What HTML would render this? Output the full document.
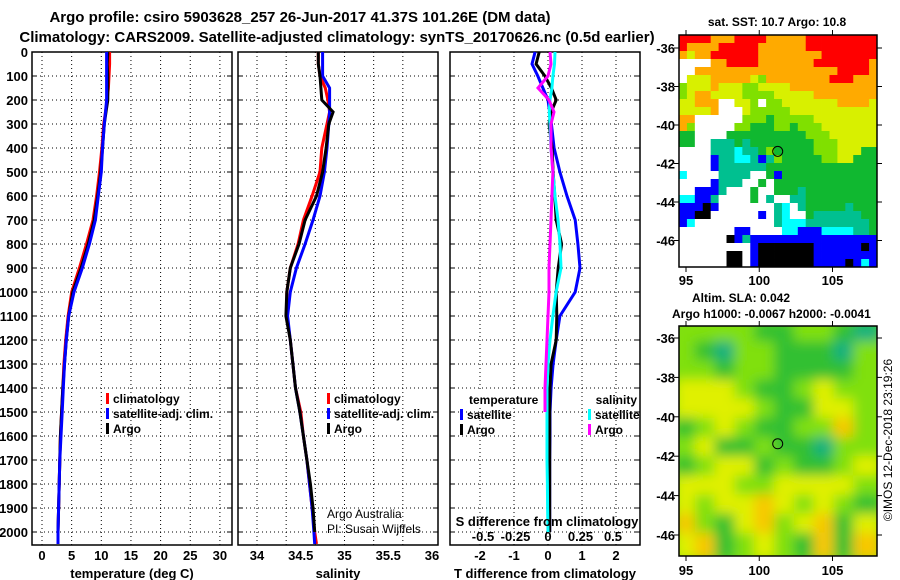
<!DOCTYPE html>
<html><head><meta charset="utf-8"><style>
html,body{margin:0;padding:0;background:#fff;width:900px;height:580px;overflow:hidden}
svg text{font-family:"Liberation Sans",sans-serif}
.b{font-weight:bold}
</style></head><body>
<svg id="fig" width="900" height="580" viewBox="0 0 900 580" xmlns="http://www.w3.org/2000/svg">
<text class="b" x="300" y="22" font-size="15" text-anchor="middle">Argo profile: csiro 5903628_257 26-Jun-2017 41.37S 101.26E (DM data)</text>
<text class="b" x="337" y="42" font-size="15" text-anchor="middle">Climatology: CARS2009. Satellite-adjusted climatology: synTS_20170626.nc (0.5d earlier)</text>
<g id="g1"></g>
<g id="g2"></g>
<g id="g3"></g>
<g id="m1"></g>
<g id="m2"></g>
</svg>
<script>
// ---- profile data ----
const depths = [0,50,100,150,200,250,300,400,500,600,700,800,900,1000,1100,1200,1300,1400,1500,1600,1700,1800,1900,2000,2050];
const tempClim = [11.4,11.4,11.3,11.2,11.0,10.7,10.4,10.1,9.7,9.2,8.6,7.5,6.3,5.0,4.4,4.0,3.7,3.5,3.3,3.1,3.0,2.9,2.8,2.7,2.7];
const tempSat  = [10.9,10.9,10.9,10.9,10.9,10.7,10.5,10.2,10.0,9.5,9.0,8.0,6.8,5.4,4.5,4.1,3.8,3.6,3.4,3.2,3.0,2.9,2.8,2.7,2.7];
const tempArgo = [11.1,11.0,11.1,11.1,11.1,10.8,10.5,10.2,9.9,9.4,8.8,7.8,6.6,5.2,4.5,4.1,3.8,3.5,3.3,3.1,3.0,2.9,2.8,2.7,2.7];
const salClim = [34.70,34.70,34.72,34.78,34.81,34.83,34.80,34.74,34.72,34.63,34.53,34.47,34.38,34.34,34.34,34.38,34.41,34.44,34.50,34.53,34.57,34.60,34.63,34.66,34.68];
const salSat  = [34.75,34.75,34.75,34.83,34.83,34.83,34.82,34.80,34.77,34.72,34.64,34.55,34.45,34.38,34.35,34.38,34.41,34.44,34.49,34.53,34.57,34.60,34.63,34.65,34.66];
const salArgo = [34.70,34.70,34.72,34.73,34.74,34.87,34.82,34.79,34.75,34.68,34.55,34.48,34.38,34.34,34.33,34.38,34.41,34.44,34.49,34.53,34.57,34.61,34.64,34.66,null];
const dTsat  = [-0.38,-0.47,-0.30,-0.15,0.0,0.05,0.10,0.18,0.35,0.56,0.80,0.88,0.94,0.80,0.35,0.24,0.15,0.09,0.06,0.06,0.05,0.05,0.05,0.05,null];
const dTargo = [-0.26,-0.35,-0.09,0.10,0.24,0.09,0.03,0.12,0.15,0.20,0.24,0.40,0.30,0.24,0.26,0.24,0.09,0.06,0.05,0.05,0.05,0.05,0.05,0.05,null];
const dSsat  = [0.054,0.05,0.038,0.03,0.015,0.01,0.015,0.023,0.038,0.054,0.077,0.092,0.10,0.062,0.038,0.015,0.0,-0.008,-0.008,-0.008,-0.008,-0.005,-0.003,0.0,null];
const dSargo = [0.015,0.023,0.0,-0.077,0.008,0.046,0.023,0.023,0.038,0.030,0.023,0.015,0.008,0.008,0.0,-0.008,-0.015,-0.023,-0.023,null,null,null,null,null,null];
const depthTicks = [0,100,200,300,400,500,600,700,800,900,1000,1100,1200,1300,1400,1500,1600,1700,1800,1900,2000];
const tempTicks = [0,5,10,15,20,25,30];
const salTickLabels = ["34","34.5","35","35.5","36"];
const salTicks = [34,34.5,35,35.5,36];
const dTTicks = [-2,-1,0,1,2];
const dSTicks = [-0.5,-0.25,0,0.25,0.5];
const dSTickLabels = ["-0.5","-0.25","0","0.25","0.5"];
// ---- map data (color codes) ----
const sstRows = [
"RRRROOORRRROOOOORRRRRRRRR","ROOOORRRRROOOOOORRRRRRRRR","OYOORRRRRROOOOOOOORRRRRRR","WWWWOORRRROOOOOOORRRRRRRO",
"WWOOOOOOOOOOOOOOOOOORRRRO","WYYYOOOOOYLOOOOOOOORRROOO","LYYYOYYYLLYYYYOOOOOOOOOOO","LYOOYYYYLLLLYYYYYOOOOOOOO",
"YYOOOWWYYLWLLYYYYYYYOOOOY","YYYYOWWWYLLLLLYYYYYYYYYYY","OOWWWWWWLLLGLLLLLYYYYYYYY","OLWWWWWLLGGGLLGLLLYYYYYYY",
"GGWWWWGGGGGGGGGGLLLYYYYYY","GGWWTTTGTGGGGGGGGLLLYYYYY","WWWWTTTCTTGLGGGGGLLLYYYGG","WWWWBTTCCTBTLGGGGGLLYYGGG",
"WWWWBTTTTTTGGGGGGGGGGGGGG","CWWWWTTTTWWGBGGGGGGGGGGGG","WWWWBTTTWWGWGGGGGGGGGGGGG","WWBBBTWWWGWWGGGTGGGGGGGGG",
"CCBBTWWWWGWTWWTTGGGGGGGGG","BBBKBWWWWWWWTCWTGGGGGTGGG","BBKKWWWWWWBWTCWWGTTTTTTGG","BCWWWWWWWWWWTCCCTTTTTTTTG",
"WWWWWWWBBWWWWCCBBBCCCCTTG","WWWWWWKBTBBBBBBBBBBBBBBBB","WWWWWWWWWBKKKKKKKBBBBBBKB","WWWWWWKKWBKKKKKKKBBBBBBBB","WWWWWWKKWBKKKKKKKBBBBKBCB"];
const slaRows = ["LLLLGGLLGT","LGTLLGGGTL","LLGLLGGGGL","YYYLGGLYLL","YYYYLGGYYL","GLYLGGLLOL","LYGGLGGTLL","GLYYGLGGLY","YYYLLYYYYL","YLYYOYLYLG","OLGYOLYOGY","YOGLYLGOGO"];
const lonTicks = [95,100,105];
const latTicks = [-36,-38,-40,-42,-44,-46];
const argoLon = 101.26, argoLat = -41.37;

const NS='http://www.w3.org/2000/svg';
function mk(p,t,a,txt){const e=document.createElementNS(NS,t);for(const k in a)e.setAttribute(k,a[k]);if(txt!==undefined)e.textContent=txt;p.appendChild(e);return e;}
const TOP=52,BOT=545;
const yD=d=>TOP+d*0.24;
const xT=t=>42+t*5.93;
const xS=s=>257+(s-34)*87.5;
const xDT=t=>548+t*34;
const xDS=s=>548+s*130;

function panel(g,x0,x1,gridXs){
  depthTicks.forEach(d=>{const l=mk(g,'line',{x1:x0,x2:x1,y1:yD(d),y2:yD(d),stroke:'#000','stroke-dasharray':'1,3','stroke-width':1});
  
  mk(g,'line',{x1:x0,x2:x0+5,y1:yD(d),y2:yD(d),stroke:'#000'});mk(g,'line',{x1:x1-5,x2:x1,y1:yD(d),y2:yD(d),stroke:'#000'});});
  gridXs.forEach(x=>{mk(g,'line',{x1:x,x2:x,y1:TOP,y2:BOT,stroke:'#000','stroke-dasharray':'1,3'});});
  const r=mk(g,'rect',{x:x0,y:TOP,width:x1-x0,height:BOT-TOP,fill:'none',stroke:'#000','stroke-width':1.5});
  
}
function line(g,xs,xf,color,name){
  let pts=[];depths.forEach((d,i)=>{if(xs[i]!==null)pts.push(xf(xs[i]).toFixed(1)+','+yD(d).toFixed(1));});
  const p=mk(g,'polyline',{points:pts.join(' '),fill:'none',stroke:color,'stroke-width':3,'stroke-linejoin':'miter'});
  
}
function txt(g,x,y,s,size,anchor,name,bold){const t=mk(g,'text',{x:x,y:y,'font-size':size,'text-anchor':anchor||'start','font-weight':bold===false?'normal':'bold'},s);
  return t;}
function leg(g,x,y,color,label,name){mk(g,'rect',{x:x,y:y-10,width:3,height:11,fill:color});txt(g,x+7,y,label,12,'start',name);}

// panel 1
const g1=document.getElementById('g1');
panel(g1,32,232,tempTicks.map(xT));
depthTicks.forEach(d=>txt(g1,28,yD(d)+5,String(d),13,'end','depth-tick-label'));
tempTicks.forEach(t=>txt(g1,xT(t),560,String(t),13,'middle','temperature-tick-label'));
txt(g1,132,578,'temperature (deg C)',13,'middle','x-axis-title-temperature');
line(g1,tempClim,xT,'#f00','temp-climatology-line');
line(g1,tempArgo,xT,'#000','temp-argo-line');
line(g1,tempSat,xT,'#00f','temp-satellite-line');
leg(g1,106,403,'#f00','climatology','legend-climatology');
leg(g1,106,418,'#00f','satellite-adj. clim.','legend-satellite');
leg(g1,106,433,'#000','Argo','legend-argo');

// panel 2
const g2=document.getElementById('g2');
const salGrid=[0,1,2,3,4,5].map(k=>xS(34+k/3));
panel(g2,238,438,salGrid);
salTicks.forEach((s,i)=>txt(g2,xS(s),560,salTickLabels[i],13,'middle','salinity-tick-label'));
txt(g2,338,578,'salinity',13,'middle','x-axis-title-salinity');
line(g2,salClim,xS,'#f00','sal-climatology-line');
line(g2,salSat,xS,'#00f','sal-satellite-line');
line(g2,salArgo,xS,'#000','sal-argo-line');
leg(g2,327,403,'#f00','climatology','legend-climatology');
leg(g2,327,418,'#00f','satellite-adj. clim.','legend-satellite');
leg(g2,327,433,'#000','Argo','legend-argo');
txt(g2,327,518,'Argo Australia',12,'start','credit-argo-australia',false);
txt(g2,327,533,'PI: Susan Wijffels',12,'start','credit-pi',false);

// panel 3
const g3=document.getElementById('g3');
panel(g3,450,640,dTTicks.map(xDT));
dTTicks.forEach(t=>txt(g3,xDT(t),560,String(t),13,'middle','tdiff-tick-label'));
txt(g3,545,578,'T difference from climatology',13,'middle','x-axis-title-tdiff');
line(g3,dTsat,xDT,'#00f','tdiff-satellite-line');
line(g3,dTargo,xDT,'#000','tdiff-argo-line');
line(g3,dSsat,xDS,'#0ff','sdiff-satellite-line');
line(g3,dSargo,xDS,'#f0f','sdiff-argo-line');
mk(g3,'rect',{x:468,y:392,width:72,height:14,fill:'#fff'});
txt(g3,469,404,'temperature',12,'start','legend-title-temperature');
txt(g3,637,404,'salinity',12,'end','legend-title-salinity');
leg(g3,460,419,'#00f','satellite','legend-t-satellite');
leg(g3,460,434,'#000','Argo','legend-t-argo');
leg(g3,588,419,'#0ff','satellite','legend-s-satellite');
leg(g3,588,434,'#f0f','Argo','legend-s-argo');
txt(g3,547,526,'S difference from climatology',13,'middle','s-diff-axis-title');
dSTicks.forEach((s,i)=>txt(g3,xDS(s),541,dSTickLabels[i],13,'middle','sdiff-tick-label'));

// maps
const colSST={R:'#ff0000',O:'#ffaa00',Y:'#d8f000',L:'#80e000',G:'#10b830',T:'#00c090',C:'#00ffff',B:'#0000ff',K:'#000000',W:'#ffffff'};
const colSLA={G:'#30c030',L:'#80e010',Y:'#e0f000',O:'#f8c800',T:'#10b080'};
function mapAxes(g,x0,y0,w,h,lonX,latY,labelY){
  const r=mk(g,'rect',{x:x0,y:y0,width:w,height:h,fill:'none',stroke:'#000','stroke-width':1.5});
  
  lonTicks.forEach(l=>{mk(g,'line',{x1:lonX(l),x2:lonX(l),y1:y0+h,y2:y0+h+5,stroke:'#000'});mk(g,'line',{x1:lonX(l),x2:lonX(l),y1:y0,y2:y0-5,stroke:'#000'});
    txt(g,lonX(l),labelY,String(l),13,'middle','longitude-tick-label');});
  latTicks.forEach(l=>{mk(g,'line',{x1:x0-5,x2:x0,y1:latY(l),y2:latY(l),stroke:'#000'});mk(g,'line',{x1:x0+w,x2:x0+w+5,y1:latY(l),y2:latY(l),stroke:'#000'});
    txt(g,x0-4,latY(l)+5,String(l),13,'end','latitude-tick-label');});
}
const m1=document.getElementById('m1');
const lon1=l=>686+(l-95)*14.65, lat1=l=>48+(-36-l)*19.25;
const cw=198/25, ch=232/29;
sstRows.forEach((row,r)=>{for(let c=0;c<row.length;c++){
  const cell=mk(m1,'rect',{x:(679+c*cw).toFixed(2),y:(35+r*ch).toFixed(2),width:(cw+0.4).toFixed(2),height:(ch+0.4).toFixed(2),fill:colSST[row[c]]});
  }});
mapAxes(m1,679,35,198,232,lon1,lat1,285);
mk(m1,'circle',{cx:lon1(argoLon),cy:lat1(argoLat),r:5,fill:'none',stroke:'#000','stroke-width':1});
txt(m1,777,26,'sat. SST: 10.7 Argo: 10.8',12,'middle','sst-map-title');

const m2=document.getElementById('m2');
const defs=mk(m2,'defs',{});
const cp=mk(defs,'clipPath',{id:'clip2'});mk(cp,'rect',{x:679,y:326,width:198,height:230});
const flt=mk(defs,'filter',{id:'blur2',x:'-10%',y:'-10%',width:'120%',height:'120%'});mk(flt,'feGaussianBlur',{stdDeviation:6});
const cg=mk(m2,'g',{'clip-path':'url(#clip2)'});
mk(cg,'rect',{x:679,y:326,width:198,height:230,fill:colSLA.L});
const bg=mk(cg,'g',{filter:'url(#blur2)'});
const cw2=198/10, ch2=230/12;
slaRows.forEach((row,r)=>{for(let c=0;c<row.length;c++){
  const cell=mk(bg,'rect',{x:(679+c*cw2-4).toFixed(2),y:(326+r*ch2-4).toFixed(2),width:(cw2+8).toFixed(2),height:(ch2+8).toFixed(2),fill:colSLA[row[c]]});
  }});
const lat2=l=>338+(-36-l)*19.7;
mapAxes(m2,679,326,198,230,lon1,lat2,575);
mk(m2,'circle',{cx:lon1(argoLon),cy:lat2(argoLat),r:5,fill:'none',stroke:'#000','stroke-width':1});
txt(m2,692,302,'Altim. SLA: 0.042',12,'start','sla-map-title');
txt(m2,672,318,'Argo h1000: -0.0067 h2000: -0.0041',12,'start','argo-height-label');
const ts=txt(m2,0,0,'©IMOS 12-Dec-2018 23:19:26',12,'middle','timestamp',false);
ts.setAttribute('transform','translate(892,440) rotate(-90)');
</script>
</body></html>
